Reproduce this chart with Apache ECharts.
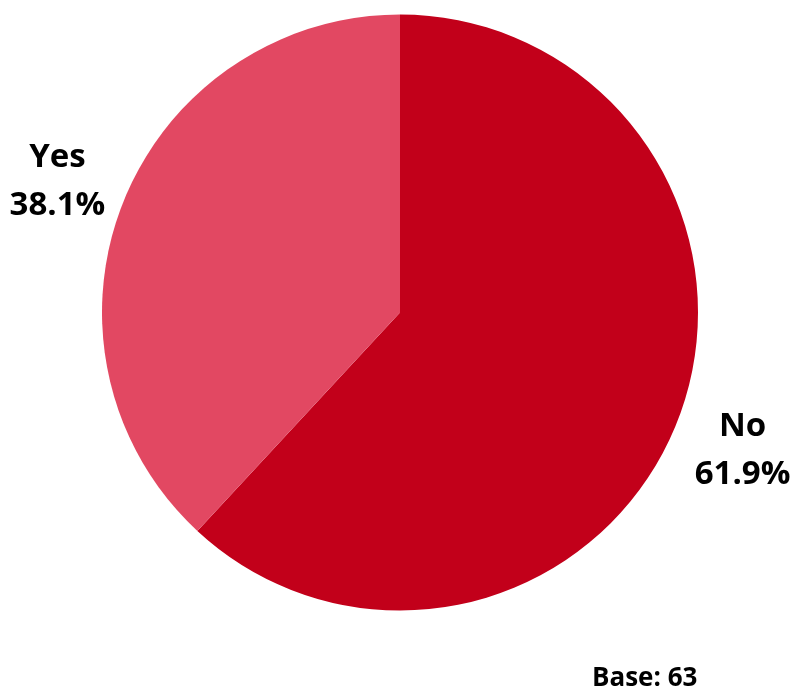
<!DOCTYPE html>
<html>
<head>
<meta charset="utf-8">
<script src="https://cdn.jsdelivr.net/npm/echarts@6/dist/echarts.min.js"></script>
<style>
  html, body { margin: 0; padding: 0; background: #ffffff; }
  #chart { width: 792px; height: 689px; }
</style>
</head>
<body>
<div id="chart"></div>
<script>
// Survey answers and their shares (percent)
const categories = ['No', 'Yes'];
const shares = [61.9, 38.1];
const sliceColors = ['#C2001A', '#E24862'];
const baseNote = 'Base: 63';

const center = [400, 312.5];
const radius = 298;
const labelRadius = 368;
const labelShiftY = 3.5;

const total = shares.reduce((a, b) => a + b, 0);
// mid-angle of each slice, clockwise from 12 o'clock
const midAngles = [];
let acc = 0;
shares.forEach(v => {
  midAngles.push(((acc + v / 2) / total) * Math.PI * 2);
  acc += v;
});

const chart = echarts.init(document.getElementById('chart'), null, { renderer: 'canvas' });
chart.setOption({
  animation: false,
  backgroundColor: '#ffffff',
  textStyle: { fontFamily: '"Open Sans", sans-serif' },
  graphic: [{
    type: 'text',
    left: 592,
    top: 666,
    style: {
      text: baseNote,
      font: 'bold 26px "Open Sans", sans-serif',
      fill: '#000000'
    }
  }],
  series: [{
    type: 'pie',
    center: center,
    radius: radius,
    startAngle: 90,
    clockwise: true,
    silent: true,
    data: categories.map((name, i) => ({
      name: name,
      value: shares[i],
      itemStyle: { color: sliceColors[i] }
    })),
    label: {
      show: true,
      position: 'outside',
      formatter: p => p.name + '\n' + p.value.toFixed(1) + '%',
      fontFamily: '"Open Sans", sans-serif',
      fontWeight: 'bold',
      fontSize: 33,
      lineHeight: 48,
      color: '#000000',
      align: 'center',
      overflow: 'none',
      width: 200
    },
    labelLine: { show: false },
    labelLayout: p => {
      const a = midAngles[p.dataIndex];
      return {
        x: center[0] + labelRadius * Math.sin(a),
        y: center[1] - labelRadius * Math.cos(a) + labelShiftY,
        align: 'center',
        verticalAlign: 'middle'
      };
    }
  }]
});
</script>
</body>
</html>
